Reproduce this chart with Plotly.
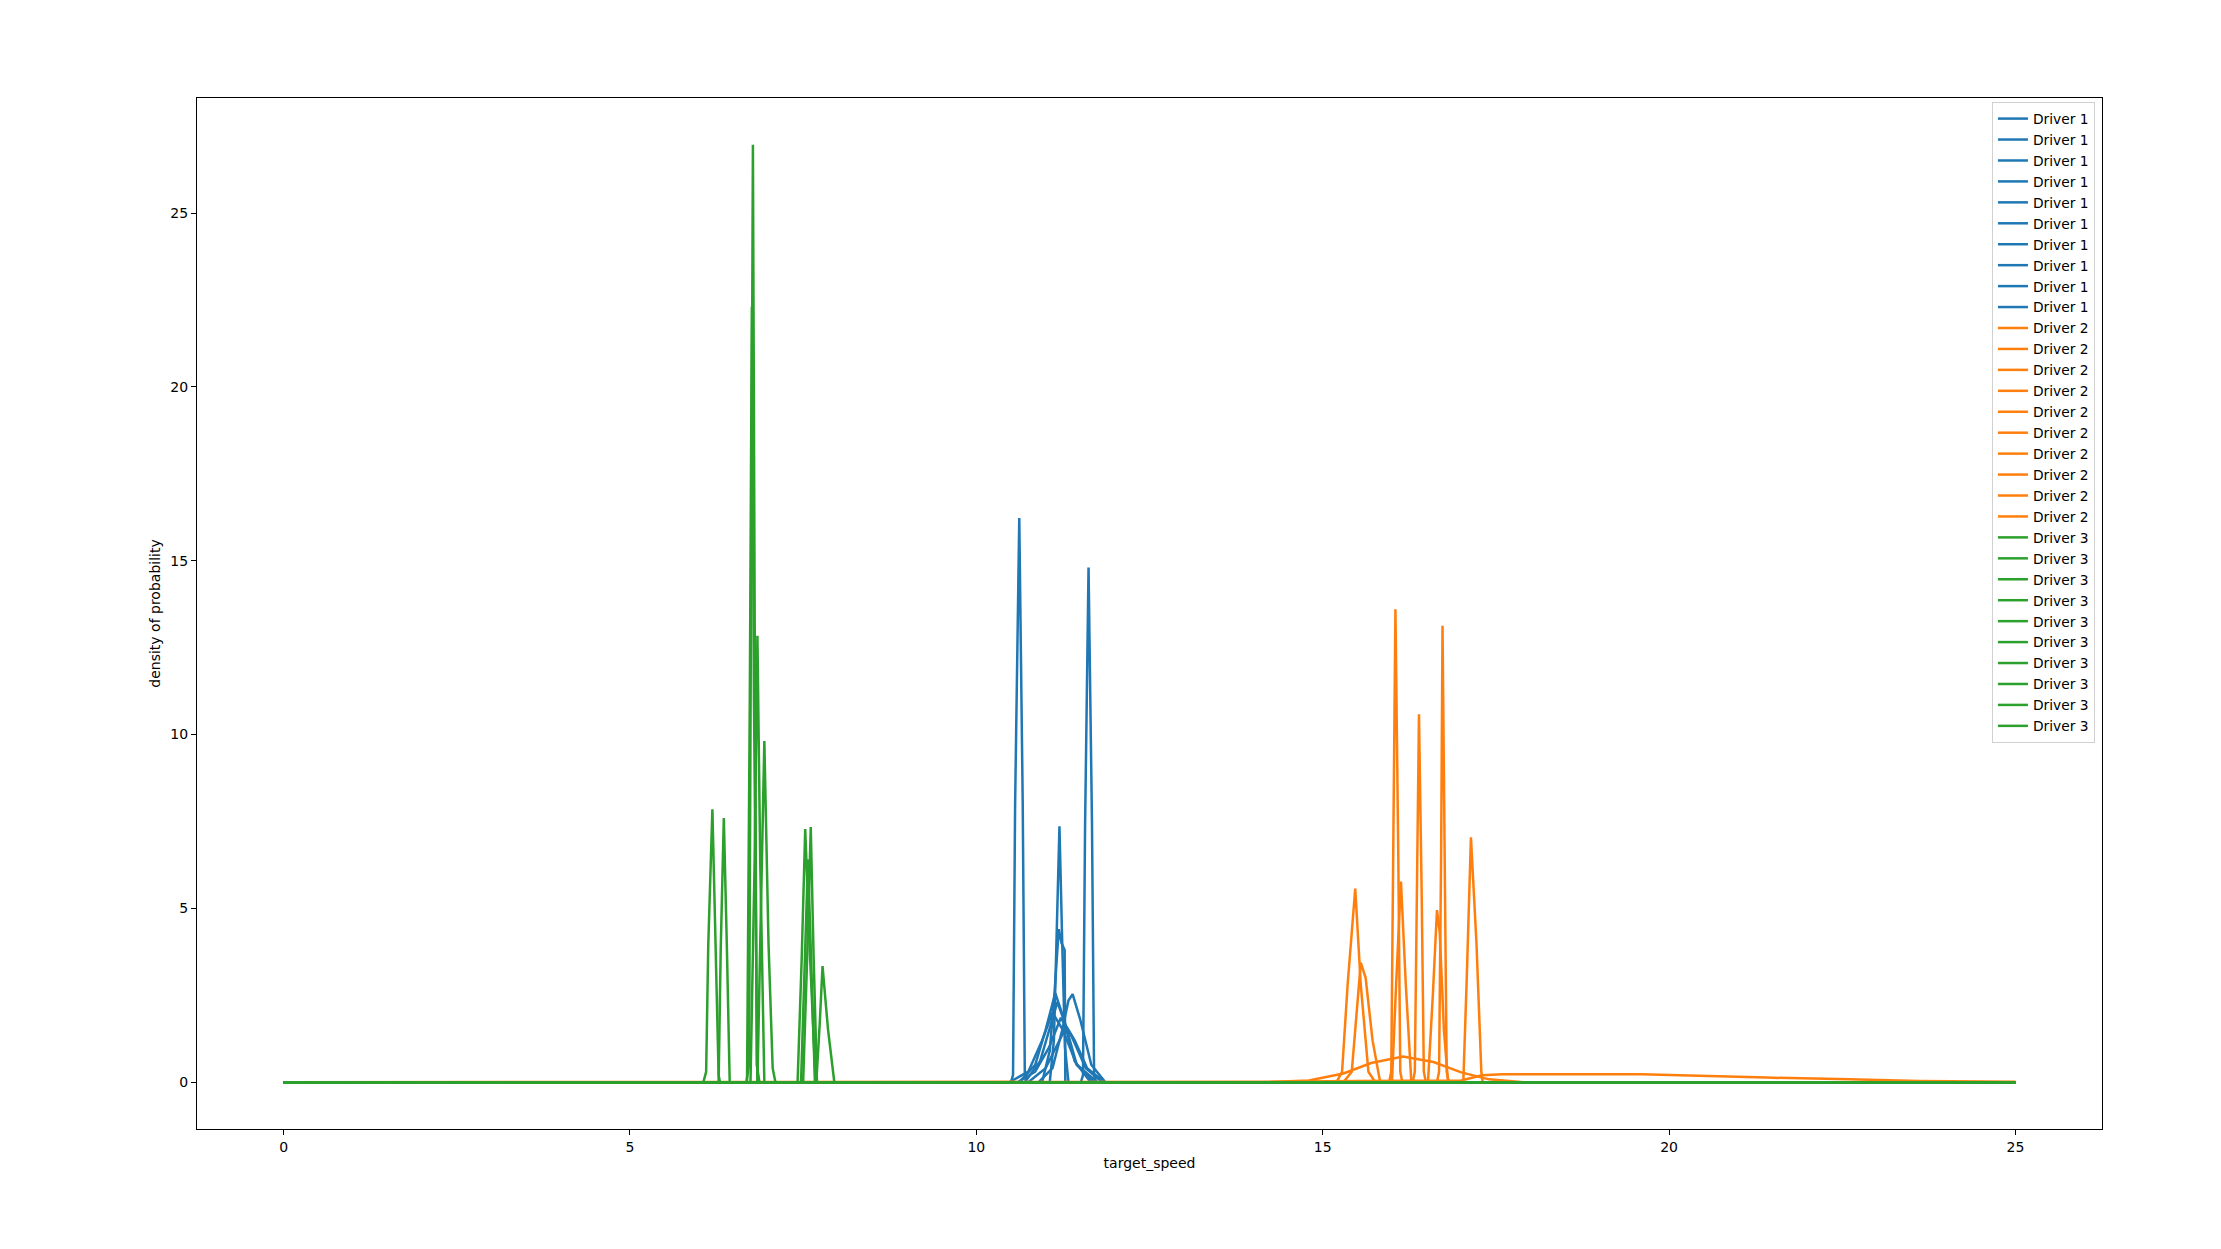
import plotly.graph_objects as go

# ---------------- data ----------------
# Driver 1 (blue) – 10 density curves
driver1_x = [
    [0, 10.50, 10.53, 10.56, 10.62, 10.67, 10.70, 10.72, 25],
    [0, 11.51, 11.54, 11.57, 11.62, 11.67, 11.70, 11.73, 25],
    [0, 11.06, 11.12, 11.16, 11.20, 11.24, 11.28, 11.33, 25],
    [0, 10.95, 11.06, 11.13, 11.19, 11.23, 11.275, 11.285, 25],
    [0, 10.62, 10.85, 11.00, 11.14, 11.25, 11.42, 11.65, 25],
    [0, 10.90, 11.10, 11.24, 11.33, 11.39, 11.50, 11.66, 11.86, 25],
    [0, 10.70, 10.92, 11.05, 11.17, 11.28, 11.45, 11.70, 25],
    [0, 10.48, 10.75, 10.95, 11.10, 11.25, 11.45, 11.75, 25],
    [0, 10.60, 10.85, 11.05, 11.22, 11.38, 11.58, 11.82, 25],
    [0, 10.75, 11.00, 11.17, 11.30, 11.42, 11.60, 11.85, 25],
]
driver1_y = [
    [0, 0, 0.2, 8.0, 16.23, 8.0, 0.2, 0, 0],
    [0, 0, 0.2, 7.4, 14.8, 7.4, 0.2, 0, 0],
    [0, 0, 1.2, 4.0, 7.36, 4.0, 1.0, 0, 0],
    [0, 0, 0.9, 2.6, 4.4, 4.0, 3.8, 0, 0],
    [0, 0, 0.5, 1.5, 2.56, 1.9, 0.6, 0, 0],
    [0, 0, 0.4, 1.5, 2.35, 2.53, 1.8, 0.5, 0, 0],
    [0, 0, 0.6, 1.5, 2.30, 1.7, 0.5, 0, 0],
    [0, 0, 0.3, 1.2, 2.00, 1.5, 0.5, 0, 0],
    [0, 0, 0.3, 1.0, 1.85, 1.3, 0.4, 0, 0],
    [0, 0, 0.4, 1.1, 1.60, 1.2, 0.4, 0, 0],
]

# Driver 2 (orange) – 10 density curves
driver2_x = [
    [0, 15.96, 15.99, 16.02, 16.05, 16.09, 16.12, 16.15, 25],
    [0, 16.65, 16.68, 16.71, 16.73, 16.76, 16.79, 16.82, 25],
    [0, 16.30, 16.33, 16.36, 16.39, 16.43, 16.46, 16.49, 25],
    [0, 17.03, 17.08, 17.14, 17.22, 17.29, 17.31, 25],
    [0, 15.20, 15.28, 15.36, 15.47, 15.55, 15.66, 15.76, 25],
    [0, 16.00, 16.06, 16.13, 16.20, 16.28, 25],
    [0, 16.52, 16.59, 16.65, 16.69, 16.75, 16.81, 25],
    [0, 15.30, 15.42, 15.50, 15.55, 15.62, 15.72, 15.83, 25],
    [0, 14.2, 14.8, 15.3, 15.7, 16.16, 16.6, 17.0, 17.4, 17.9, 25],
    [0, 12.0, 14.0, 15.5, 17.0, 17.3, 17.6, 19.6, 20.4, 21.4, 22.6, 23.6, 25],
]
driver2_y = [
    [0, 0, 0.3, 6.8, 13.60, 6.8, 0.3, 0, 0],
    [0, 0, 0.3, 6.6, 13.13, 6.6, 0.3, 0, 0],
    [0, 0, 0.3, 5.3, 10.58, 5.3, 0.3, 0, 0],
    [0, 0, 3.0, 7.04, 4.0, 0.3, 0, 0],
    [0, 0, 0.3, 2.8, 5.57, 2.8, 0.3, 0, 0],
    [0, 0, 2.8, 5.77, 2.8, 0, 0],
    [0, 0, 2.5, 4.95, 4.3, 1.5, 0, 0],
    [0, 0, 0.3, 2.4, 3.44, 3.0, 1.2, 0, 0],
    [0, 0, 0.05, 0.25, 0.55, 0.74, 0.58, 0.28, 0.08, 0, 0],
    [0, 0, 0.01, 0.03, 0.05, 0.20, 0.23, 0.23, 0.18, 0.13, 0.08, 0.03, 0.01],
]

# Driver 3 (green) – 10 density curves
driver3_x = [
    [0, 6.06, 6.10, 6.13, 6.19, 6.24, 6.28, 6.30, 25],
    [0, 6.28, 6.31, 6.355, 6.40, 6.44, 25],
    [0, 6.68, 6.72, 6.75, 6.775, 6.80, 6.83, 6.87, 25],
    [0, 6.74, 6.80, 6.84, 6.88, 6.94, 25],
    [0, 6.84, 6.89, 6.94, 7.00, 7.06, 7.10, 25],
    [0, 7.42, 7.48, 7.53, 7.60, 7.68, 25],
    [0, 7.50, 7.56, 7.61, 7.65, 7.70, 25],
    [0, 7.69, 7.74, 7.78, 7.86, 7.95, 25],
    [0, 7.47, 7.52, 7.57, 7.62, 7.67, 25],
    [0, 6.69, 6.73, 6.76, 6.79, 6.84, 25],
]
driver3_y = [
    [0, 0, 0.3, 3.9, 7.85, 3.9, 0.2, 0, 0],
    [0, 0, 3.8, 7.6, 3.8, 0, 0],
    [0, 0, 0.5, 13.5, 26.96, 13.5, 0.5, 0, 0],
    [0, 0, 6.4, 12.84, 6.4, 0, 0],
    [0, 0, 4.9, 9.81, 4.0, 0.4, 0, 0],
    [0, 0, 3.6, 7.28, 3.6, 0, 0],
    [0, 0, 3.7, 7.34, 3.7, 0, 0],
    [0, 0, 1.7, 3.34, 1.5, 0, 0],
    [0, 0, 3.2, 6.4, 3.2, 0, 0],
    [0, 0, 11.0, 22.3, 11.0, 0, 0],
]

driver_names = ["Driver 1", "Driver 2", "Driver 3"]
driver_colors = ["#1f77b4", "#ff7f0e", "#2ca02c"]
x_ticks = [0, 5, 10, 15, 20, 25]
y_ticks = [0, 5, 10, 15, 20, 25]

# ---------------- figure ----------------
fig = go.Figure()
for name, color, xs, ys in zip(driver_names, driver_colors,
                               [driver1_x, driver2_x, driver3_x],
                               [driver1_y, driver2_y, driver3_y]):
    for cx, cy in zip(xs, ys):
        fig.add_trace(go.Scatter(x=cx, y=cy, mode="lines", name=name,
                                 line=dict(color=color, width=2.5),
                                 showlegend=True))

font_family = "DejaVu Sans"
ymax = 26.96
xr = [-1.25, 26.25]
yr = [-0.05 * ymax, ymax * 1.05]

axis_common = dict(showline=True, linecolor="black", linewidth=1.2, mirror=True,
                   ticks="outside", ticklen=5, tickwidth=1.2, tickcolor="black",
                   showgrid=False, zeroline=False,
                   tickfont=dict(family=font_family, size=14, color="black"))

fig.update_layout(
    width=2221, height=1249,
    margin=dict(l=189, r=127, t=90, b=128, pad=0),
    paper_bgcolor="white", plot_bgcolor="white",
    font=dict(family=font_family, size=14, color="black"),
    xaxis=dict(range=xr, tickvals=x_ticks, ticktext=[str(v) for v in x_ticks],
               title=dict(text="target_speed", font=dict(size=14), standoff=4),
               **axis_common),
    yaxis=dict(range=yr, tickvals=y_ticks, ticktext=[str(v) for v in y_ticks],
               title=dict(text="density of probability", font=dict(size=14), standoff=6),
               **axis_common),
    legend=dict(x=0.9963, y=0.996, xanchor="right", yanchor="top",
                bgcolor="rgba(255,255,255,0.8)", bordercolor="#d0d0d0", borderwidth=1,
                font=dict(family=font_family, size=13.8, color="black"),
                tracegroupgap=0, itemwidth=30),
    showlegend=True,
)

fig.write_html("out.html")
